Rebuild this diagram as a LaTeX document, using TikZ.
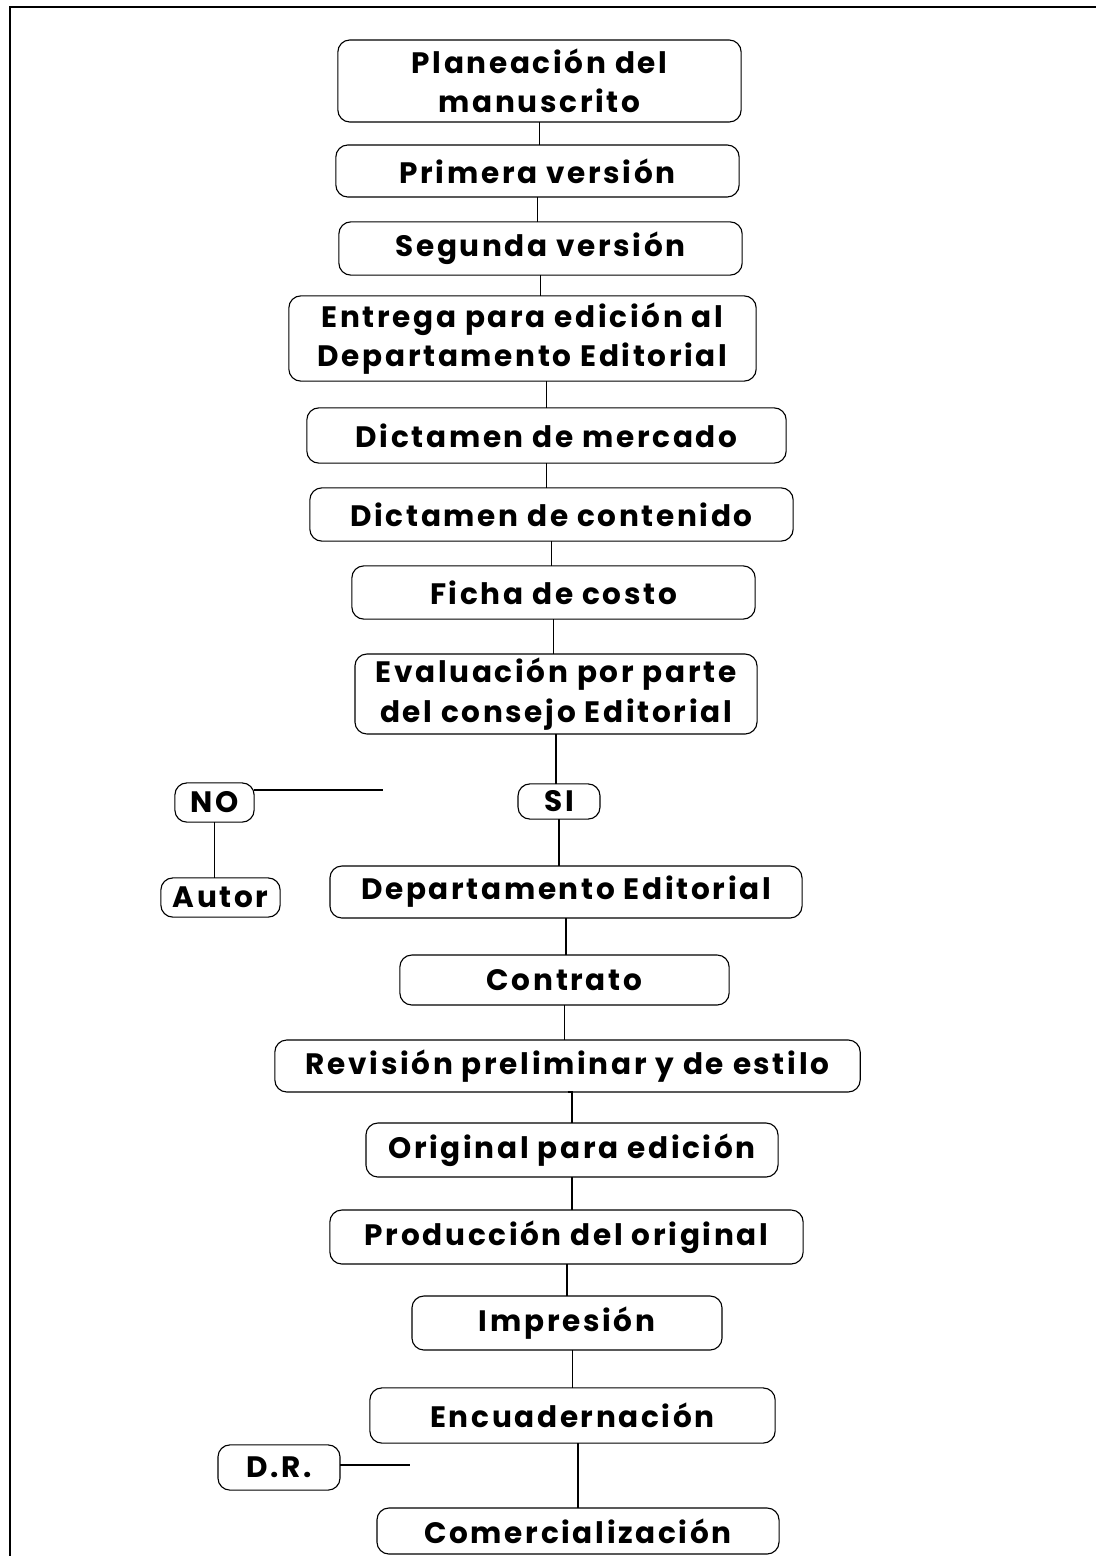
\documentclass[tikz,border=0pt]{standalone}
\usepackage{fontspec}
\setmainfont{Poppins}[LetterSpace=9]
\usepackage{tikz}
\usetikzlibrary{positioning}

\begin{document}
\begin{tikzpicture}[x=0.025cm,y=-0.025cm,
  caja/.style 2 args={draw,line width=0.8pt,rounded corners=0.3cm,inner sep=0pt,outer sep=0pt,
    minimum width=#1cm,minimum height=#2cm,align=center,
    font=\fontsize{21}{28}\selectfont\bfseries},
  linea/.style={line width=0.8pt}]
\useasboundingbox (0,0) rectangle (1096,1556);
\draw[linea](10,1556) -- (10,7) -- (1096,7);
\node[caja={10.08}{2.05}] (plan) at (539.5,81) {Planeación del\\manuscrito};
\node[caja={10.08}{1.30}] (prim) at (537.5,171) {Primera versión};
\node[caja={10.08}{1.33}] (seg) at (540.5,248.5) {Segunda versión};
\node[caja={11.68}{2.13}] (ent) at (522.5,338.5) {Entrega para edición al\\Departamento Editorial};
\node[caja={11.98}{1.38}] (merc) at (546.5,435.5) {Dictamen de mercado};
\node[caja={12.08}{1.33}] (cont) at (551.5,514.5) {Dictamen de contenido};
\node[caja={10.08}{1.33}] (ficha) at (553.5,592.5) {Ficha de costo};
\node[caja={10.05}{2.00}] (eval) at (556,694) {Evaluación por parte\\del consejo Editorial};
\node[caja={2.05}{0.88}] (si) at (559,801.5) {SI};
\node[caja={1.98}{0.98}] (no) at (214.5,802.5) {NO};
\node[caja={11.80}{1.30}] (dep) at (566,892) {Departamento Editorial};
\node[caja={2.98}{0.98}] (autor) at (220.5,897.5) {Autor};
\node[caja={8.23}{1.25}] (contrato) at (564.5,980) {Contrato};
\node[caja={14.63}{1.30}] (rev) at (567.5,1066) {Revisión preliminar y de estilo};
\node[caja={10.30}{1.35}] (orig) at (572,1150) {Original para edición};
\node[caja={11.83}{1.35}] (prod) at (566.5,1237) {Producción del original};
\node[caja={7.75}{1.35}] (imp) at (567,1323) {Impresión};
\node[caja={10.13}{1.38}] (enc) at (572.5,1415.5) {Encuadernación};
\node[caja={3.05}{1.13}] (dr) at (279,1467.5) {D.R.};
\node[caja={10.05}{1.15}] (com) at (578,1531) {Comercialización};
\coordinate (nofin) at (383,790);
\coordinate (drfin) at (410,1465);
\draw[linea](plan.south) -- (plan.south |- prim.north);
\draw[linea](prim.south) -- (prim.south |- seg.north);
\draw[linea](seg.south) -- (seg.south |- ent.north);
\draw[linea](merc.north |- ent.south) -- (merc.north);
\draw[linea](merc.south) -- (merc.south |- cont.north);
\draw[linea](cont.south) -- (cont.south |- ficha.north);
\draw[linea](ficha.south) -- (ficha.south |- eval.north);
\draw[linea](eval.south) -- (eval.south |- si.north);
\draw[linea](si.south) -- (si.south |- dep.north);
\draw[linea](no.east |- nofin) -- (nofin);
\draw[linea](no.south) -- (no.south |- autor.north);
\draw[linea](dep.south) -- (dep.south |- contrato.north);
\draw[linea](contrato.south) -- (contrato.south |- rev.north);
\draw[linea](rev.south) -- (rev.south -| orig.north) -- (orig.north);
\draw[linea](orig.south) -- (orig.south |- prod.north);
\draw[linea](imp.north |- prod.south) -- (imp.north);
\draw[linea](enc.north |- imp.south) -- (enc.north);
\draw[linea](com.north |- enc.south) -- (com.north);
\draw[linea](dr.east |- drfin) -- (drfin);
\end{tikzpicture}
\end{document}
